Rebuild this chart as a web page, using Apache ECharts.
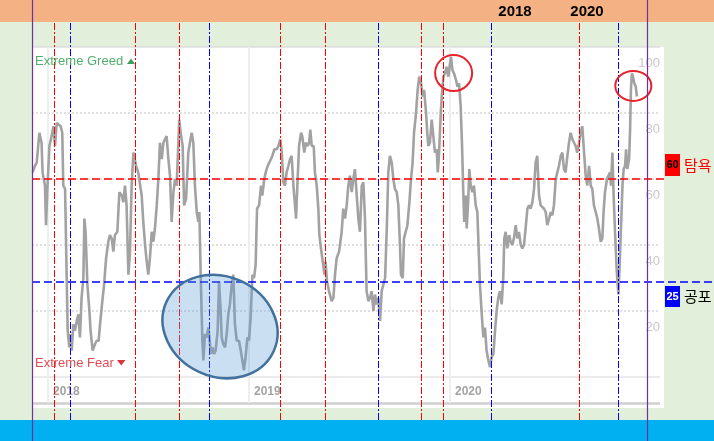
<!DOCTYPE html>
<html><head><meta charset="utf-8">
<script src="https://cdn.jsdelivr.net/npm/echarts@6/dist/echarts.min.js"></script>
<style>html,body{margin:0;padding:0;background:#e2efda;overflow:hidden}#c{width:714px;height:441px}</style>
</head><body><div id="c"></div><script>
// ---- data (decimal year, index value) ----
const fgYears = [
2017.924,2017.935,2017.944,2017.957,2017.968,2017.973,2017.985,2017.990,2017.997,2018.007,
2018.018,2018.027,2018.035,2018.043,2018.051,2018.063,2018.071,2018.076,2018.085,2018.093,
2018.098,2018.106,2018.113,2018.118,2018.126,2018.134,2018.143,2018.151,2018.159,2018.167,
2018.176,2018.181,2018.187,2018.196,2018.206,2018.212,2018.222,2018.234,2018.242,2018.252,
2018.259,2018.267,2018.279,2018.289,2018.300,2018.308,2018.317,2018.325,2018.333,2018.345,
2018.355,2018.367,2018.375,2018.383,2018.391,2018.400,2018.408,2018.416,2018.425,2018.438,
2018.449,2018.466,2018.474,2018.483,2018.491,2018.499,2018.507,2018.516,2018.524,2018.532,
2018.541,2018.549,2018.557,2018.566,2018.574,2018.582,2018.590,2018.599,2018.607,2018.615,
2018.624,2018.632,2018.640,2018.648,2018.653,2018.660,2018.670,2018.677,2018.687,2018.698,
2018.706,2018.715,2018.723,2018.731,2018.740,2018.748,2018.753,2018.760,2018.768,2018.773,
2018.781,2018.789,2018.798,2018.806,2018.811,2018.818,2018.826,2018.834,2018.844,2018.851,
2018.859,2018.864,2018.872,2018.881,2018.889,2018.897,2018.905,2018.914,2018.922,2018.930,
2018.939,2018.950,2018.959,2018.967,2018.975,2018.983,2018.992,2019.000,2019.008,2019.017,
2019.025,2019.033,2019.040,2019.050,2019.060,2019.066,2019.076,2019.083,2019.093,2019.100,
2019.109,2019.116,2019.126,2019.138,2019.146,2019.156,2019.163,2019.171,2019.179,2019.187,
2019.196,2019.204,2019.212,2019.221,2019.229,2019.234,2019.242,2019.249,2019.259,2019.265,
2019.275,2019.282,2019.292,2019.299,2019.305,2019.312,2019.322,2019.328,2019.337,2019.345,
2019.350,2019.358,2019.367,2019.375,2019.381,2019.388,2019.398,2019.411,2019.420,2019.428,
2019.436,2019.448,
2019.461,2019.469,2019.478,2019.486,2019.494,2019.502,2019.511,2019.519,2019.527,2019.536,
2019.544,2019.552,2019.561,2019.569,2019.577,2019.585,2019.594,2019.602,2019.610,2019.619,
2019.627,2019.635,2019.643,2019.652,2019.660,2019.668,2019.677,2019.685,2019.693,2019.701,
2019.710,2019.718,2019.726,2019.735,2019.743,2019.751,2019.756,2019.765,2019.771,2019.779,
2019.788,2019.798,2019.806,2019.814,2019.821,2019.831,2019.839,2019.847,2019.856,2019.864,
2019.871,2019.881,2019.887,2019.892,2019.900,2019.909,2019.917,2019.925,2019.934,2019.939,
2019.945,2019.954,2019.960,2019.967,2019.975,2019.983,2019.992,2020.000,2020.005,2020.012,
2020.020,2020.030,2020.037,2020.045,2020.053,2020.060,2020.066,2020.071,2020.078,2020.083,
2020.091,2020.096,2020.103,2020.111,2020.119,2020.128,2020.136,2020.143,2020.149,2020.158,
2020.166,2020.174,2020.182,2020.191,2020.199,2020.207,2020.216,2020.224,
2020.232,2020.240,2020.249,2020.257,2020.265,2020.270,2020.277,2020.285,2020.294,2020.302,
2020.310,2020.318,2020.327,2020.335,2020.343,2020.352,2020.360,2020.368,2020.376,2020.385,
2020.393,2020.401,2020.410,2020.418,2020.426,2020.434,2020.443,2020.451,2020.459,2020.468,
2020.476,2020.484,2020.493,2020.501,2020.509,2020.517,2020.526,2020.534,2020.542,2020.551,
2020.559,2020.567,2020.575,2020.584,2020.592,2020.600,2020.609,2020.617,2020.625,2020.633,
2020.642,2020.650,2020.658,2020.667,2020.675,2020.683,2020.692,2020.700,2020.708,2020.716,
2020.725,2020.733,2020.741,2020.750,2020.758,2020.764,2020.771,2020.781,2020.788,2020.796,
2020.801,2020.808,2020.814,2020.821,2020.828,2020.834,2020.838,2020.844,2020.851,2020.858,
2020.864,2020.871,2020.876,2020.882,2020.891,2020.896,2020.900,2020.905,2020.910,2020.917,
2020.924,2020.930
];
const fgValues = [
62,64,65,74,71,62,58,46,57,70,
73,76,70,77,77,76,74,58,57,30,
14,9,13,8,16,14,17,19,12,24,
30,48,44,28,20,14,8,10,11,11,
16,21,28,36,41,43,42,38,43,44,
56,55,53,58,52,31,38,58,68,64,
62,55,47,40,35,31,36,44,41,45,
52,60,71,66,71,72,73,66,61,47,
56,60,58,70,78,74,70,52,54,68,
71,74,71,58,50,47,50,30,11,5,
13,12,15,10,7,9,7,8,14,29,
20,12,10,9,13,19,22,28,31,16,
11,11,8,8,2,6,12,11,18,31,
30,34,51,52,58,55,60,62,64,64,
66,67,69,69,70,72,68,59,58,62,
64,66,67,58,52,48,60,70,74,73,
68,71,70,71,75,70,70,62,58,51,
43,39,35,31,35,29,26,23,24,31,
36,38,
44,51,48,52,58,61,56,60,63,55,
48,44,58,59,48,26,23,24,26,20,
25,22,24,17,26,26,30,44,62,67,
65,60,57,56,52,40,31,30,42,42,
46,53,60,65,74,80,87,91,89,85,
87,80,74,70,71,78,73,68,69,62,
67,80,86,91,92,94,91,95,97,93,
92,90,88,89,82,70,56,47,55,45,
54,63,58,56,58,52,50,38,28,19,
12,15,8,5,3,6,7,14,
20,24,26,22,30,42,44,39,43,41,
40,42,46,42,44,40,39,40,45,51,
52,51,53,57,65,67,55,52,52,51,
50,46,48,50,49,52,60,62,64,67,
68,63,62,67,71,74,72,71,70,68,
71,74,76,76,61,58,64,58,57,52,
50,48,45,41,42,50,56,60,61,62,
58,68,55,44,34,28,25,34,46,58,
63,64,69,63,66,75,87,92,91,89,
88,85
];
const yearTicks = [2018, 2019, 2020];
const valueTicks = [20, 40, 60, 80, 100];
const gridValues = [20, 40, 60, 80];
const greedMarks = [2018.031, 2018.434, 2018.655, 2019.156, 2019.380, 2019.859, 2019.967, 2020.645];
const fearMarks = [2018.111, 2018.802, 2019.643, 2020.205, 2020.837];
const greedLevel = 60;
const fearLevel = 28.8;
const greedTag = '60', greedWord = '탐욕';
const fearTag = '25', fearWord = '공포';
const headerYears = ['2018', '2020'];
const greedText = 'Extreme Greed', fearText = 'Extreme Fear';
// annotation anchors (data coordinates)
const peakCircles = [[2020.018, 92.1], [2020.912, 88.2]];
const fearZone = [2018.856, 15.3];

// ---- layout ----
const X_MIN = 2017.9204, X_MAX = 2021.3134, Y_MIN = -13.03, Y_MAX = 107.58;
const PANEL_END = 2021.0647, RULE_END = 2021.045, BASE = -7.88;

const chart = echarts.init(document.getElementById('c'), null, {renderer: 'canvas', width: 714, height: 441});
const lineData = fgYears.map((x, i) => [x, fgValues[i]]);

const gridLines = [];
gridValues.forEach(v => gridLines.push([{coord: [X_MIN, v], lineStyle: {color: '#d6d6d6', width: 1.5, type: [2, 2]}}, {coord: [RULE_END, v]}]));
gridLines.push([{coord: [X_MIN, 100], lineStyle: {color: '#dcdcdc', width: 1.5, type: 'solid'}}, {coord: [RULE_END, 100]}]);
gridLines.push([{coord: [X_MIN, 0], lineStyle: {color: '#ebebeb', width: 2, type: 'solid'}}, {coord: [RULE_END, 0]}]);
gridLines.push([{coord: [X_MIN, BASE], lineStyle: {color: '#cfcfcf', width: 2.5, type: 'solid'}}, {coord: [RULE_END, BASE]}]);
yearTicks.forEach(y => gridLines.push([{coord: [y, BASE], lineStyle: {color: '#eeeeee', width: 2, type: 'solid'}}, {coord: [y, 100]}]));

const labelFont = 'Liberation Sans, Arial, sans-serif';
chart.setOption({
  animation: false,
  backgroundColor: '#e2efda',
  grid: {left: 32, right: 0, top: 22, bottom: 21, containLabel: false},
  xAxis: {
    type: 'value', min: X_MIN, max: X_MAX,
    axisLine: {show: false}, axisTick: {show: false}, splitLine: {show: false},
    axisLabel: {customValues: yearTicks, inside: true, margin: 22, align: 'left', padding: [0, 0, 0, 5],
      color: '#a3a3a3', fontSize: 12, fontWeight: 'bold', fontFamily: labelFont,
      formatter: v => String(Math.round(v))}
  },
  yAxis: {
    type: 'value', position: 'right', min: Y_MIN, max: Y_MAX,
    axisLine: {show: false}, axisTick: {show: false}, splitLine: {show: false},
    axisLabel: {customValues: valueTicks, inside: true, margin: 54, lineHeight: 32,
      color: '#c8c8c8', fontSize: 13, fontFamily: labelFont,
      formatter: v => '\n' + String(Math.round(v))}
  },
  series: [
    {type: 'line', data: [], silent: true, z: 1,
      markLine: {silent: true, z: 1, symbol: ['none', 'none'], label: {show: false}, data: gridLines}},
    {type: 'line', data: lineData, showSymbol: false, symbol: 'none', z: 3, silent: true,
      lineStyle: {color: '#a2a2a2', width: 2.6}},
    {type: 'line', data: [], silent: true, z: 6}
  ]
});

// snap thin annotation rules onto pixel centres so they stay crisp
const px = p => chart.convertToPixel({gridIndex: 0}, p);
const snapX = x => {
  const p = px([x, 0])[0];
  return chart.convertFromPixel({gridIndex: 0}, [Math.floor(p) + 0.5, 0])[0];
};
const dashDot = [7, 2, 2, 2];
const vLine = (x, color) => {
  const xs = snapX(x);
  const st = {color: color, width: 1, type: dashDot, opacity: 1};
  return [{coord: [xs, Y_MIN], lineStyle: st}, {coord: [xs, Y_MAX], lineStyle: st}];
};
const annLines = [];
greedMarks.forEach(x => annLines.push(vLine(x, '#ff0000')));
fearMarks.forEach(x => annLines.push(vLine(x, '#0000ff')));
const redSt = {color: '#ff0000', width: 1.5, type: [8, 4]};
const blueSt = {color: '#0000ff', width: 1.5, type: [8, 4]};
annLines.push([{coord: [X_MIN, greedLevel], lineStyle: redSt}, {coord: [PANEL_END, greedLevel], lineStyle: redSt}]);
annLines.push([{coord: [X_MIN, fearLevel], lineStyle: blueSt}, {coord: [X_MAX, fearLevel], lineStyle: blueSt}]);

const c1 = px(peakCircles[0]), c2 = px(peakCircles[1]), fz = px(fearZone);
const txtFont = "'Liberation Sans', Arial, sans-serif";
chart.setOption({
  series: [{}, {}, {markLine: {silent: true, z: 6, symbol: ['none', 'none'], label: {show: false}, data: annLines}}],
  graphic: [
    {type: 'rect', z: 0, silent: true, shape: {x: 32, y: 47, width: 632, height: 361}, style: {fill: '#ffffff'}},
    {type: 'rect', z: 0, silent: true, shape: {x: 0, y: 0, width: 714, height: 22}, style: {fill: '#f4b183'}},
    {type: 'rect', z: 0, silent: true, shape: {x: 0, y: 420, width: 714, height: 21}, style: {fill: '#00b0f0'}},
    {type: 'text', z: 10, x: 35, y: 61.5, style: {text: greedText, fill: '#4fae6a', font: '13px ' + txtFont, textVerticalAlign: 'middle'}},
    {type: 'polygon', z: 10, shape: {points: [[127, 64], [135, 64], [131, 58.5]]}, style: {fill: '#3c9f57'}},
    {type: 'text', z: 10, x: 35, y: 363, style: {text: fearText, fill: '#de4c55', font: '13px ' + txtFont, textVerticalAlign: 'middle'}},
    {type: 'polygon', z: 10, shape: {points: [[117, 360], [125.5, 360], [121.2, 365.5]]}, style: {fill: '#d8333e'}},
    {type: 'ellipse', z: 12, x: fz[0], y: fz[1], rotation: -25 * Math.PI / 180, shape: {cx: 0, cy: 0, rx: 59, ry: 50},
      style: {fill: 'rgba(91,155,213,0.32)', stroke: '#41719c', lineWidth: 2.5}},
    {type: 'ellipse', z: 12, shape: {cx: c1[0], cy: c1[1], rx: 18.5, ry: 18}, style: {fill: 'none', stroke: '#e8222b', lineWidth: 2}},
    {type: 'ellipse', z: 12, shape: {cx: c2[0], cy: c2[1], rx: 18, ry: 15}, style: {fill: 'none', stroke: '#e8222b', lineWidth: 2}},
    {type: 'line', z: 20, shape: {x1: 32.5, y1: 0, x2: 32.5, y2: 441}, style: {stroke: '#7030a0', lineWidth: 1.2}},
    {type: 'line', z: 20, shape: {x1: 647.5, y1: 0, x2: 647.5, y2: 441}, style: {stroke: '#7030a0', lineWidth: 1.2}},
    {type: 'text', z: 20, x: 515, y: 12, style: {text: headerYears[0], fill: '#000', font: 'bold 15px "Liberation Sans", Arial, sans-serif', textAlign: 'center', textVerticalAlign: 'middle'}},
    {type: 'text', z: 20, x: 587, y: 12, style: {text: headerYears[1], fill: '#000', font: 'bold 15px "Liberation Sans", Arial, sans-serif', textAlign: 'center', textVerticalAlign: 'middle'}},
    {type: 'rect', z: 20, shape: {x: 665, y: 154, width: 15, height: 22}, style: {fill: '#ff0000'}},
    {type: 'text', z: 21, x: 672.5, y: 165, style: {text: greedTag, fill: '#000', font: 'bold 11px "Liberation Sans", Arial, sans-serif', textAlign: 'center', textVerticalAlign: 'middle'}},
    {type: 'text', z: 21, x: 684, y: 165, style: {text: greedWord, fill: '#ff0000', font: '15px "Noto Sans CJK KR", sans-serif', textVerticalAlign: 'middle'}},
    {type: 'rect', z: 20, shape: {x: 665, y: 286, width: 15, height: 21}, style: {fill: '#0000ff'}},
    {type: 'text', z: 21, x: 672.5, y: 296.5, style: {text: fearTag, fill: '#fff', font: 'bold 11px "Liberation Sans", Arial, sans-serif', textAlign: 'center', textVerticalAlign: 'middle'}},
    {type: 'text', z: 21, x: 684, y: 296.5, style: {text: fearWord, fill: '#000', font: '15px "Noto Sans CJK KR", sans-serif', textVerticalAlign: 'middle'}}
  ]
});
</script></body></html>
